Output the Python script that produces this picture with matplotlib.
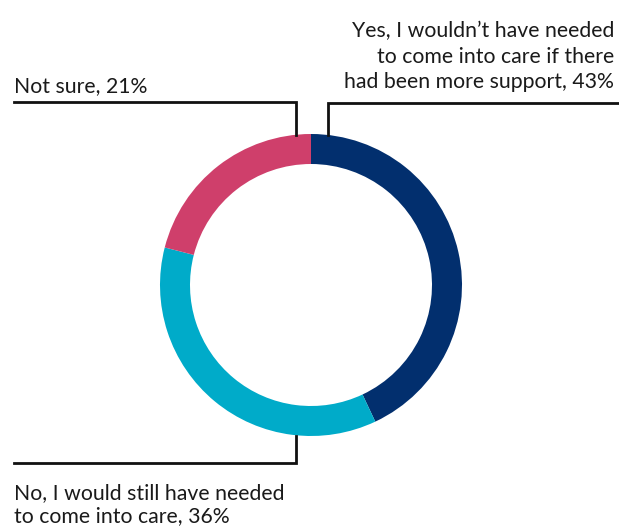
import matplotlib
matplotlib.use("Agg")
import matplotlib.pyplot as plt

labels = ["Yes, I wouldn\u2019t have needed\nto come into care if there\nhad been more support, 43%",
          "No, I would still have needed\nto come into care, 36%",
          "Not sure, 21%"]
values = [43, 36, 21]
colors = ["#022f6e", "#00abc9", "#cf3f6b"]

W, H = 619, 526
fig = plt.figure(figsize=(W / 100, H / 100), dpi=100)
ax = fig.add_axes([0, 0, 1, 1])

def Y(y):
    return H - y

cx, cy, R = 311, 285, 151
ax.pie(values, colors=colors, startangle=90, counterclock=False,
       center=(cx, Y(cy)), radius=R, frame=True,
       wedgeprops=dict(width=30, linewidth=0))
ax.set_xlim(0, W)
ax.set_ylim(0, H)
ax.set_aspect("equal")
ax.axis("off")

lc = "#111111"
lw = 2.0
# leaders
ax.plot([327.5, 327.5, 619], [Y(135), Y(103), Y(103)], color=lc, lw=lw, solid_joinstyle="miter")
ax.plot([296, 296, 14], [Y(135), Y(102), Y(102)], color=lc, lw=lw, solid_joinstyle="miter")
ax.plot([296, 296, 14], [Y(436), Y(463), Y(463)], color=lc, lw=lw, solid_joinstyle="miter")

font = dict(family="Lato", fontsize=15.3, color="#1a1a1a")
ax.text(614, Y(88), labels[0], ha="right", va="baseline", linespacing=1.33, **font)
ax.text(14, Y(92), labels[2], ha="left", va="baseline", **font)
ax.text(14, Y(522), labels[1], ha="left", va="baseline", linespacing=1.2, **font)

fig.savefig("out.png", dpi=100)
